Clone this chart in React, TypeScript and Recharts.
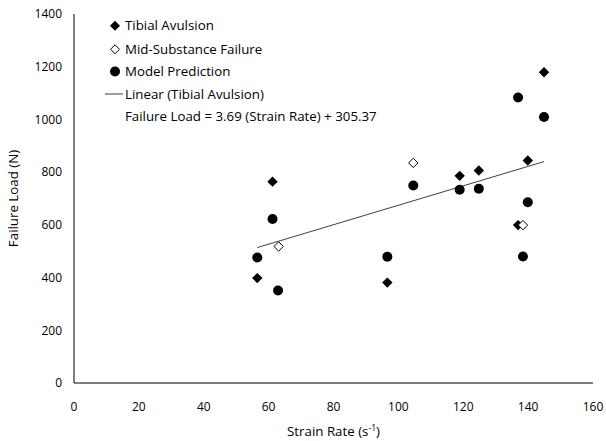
import React from "react";
import { ScatterChart, Scatter, XAxis, YAxis, ReferenceLine } from "recharts";

const strainTibial = [56.5, 61.2, 96.6, 118.9, 124.8, 136.9, 139.9, 144.9];
const loadTibial = [398, 764, 381, 786, 806, 599, 844, 1179];
const strainMid = [63.1, 104.6, 138.4];
const loadMid = [518, 835, 599];
const strainModel = [56.5, 61.2, 62.9, 96.6, 104.6, 118.9, 124.8, 136.9, 139.9, 138.4, 144.9];
const loadModel = [476, 622, 351, 479, 749, 733, 737, 1083, 686, 480, 1009];

const xTicks = [0, 20, 40, 60, 80, 100, 120, 140, 160];
const yTicks = [0, 200, 400, 600, 800, 1000, 1200, 1400];

const trendSlope = 3.69;
const trendIntercept = 305.37;

const legendLabels = [
  "Tibial Avulsion",
  "Mid-Substance Failure",
  "Model Prediction",
  "Linear (Tibial Avulsion)",
];
const equationText = "Failure Load = 3.69 (Strain Rate) + 305.37";

const FONT = "'Open Sans', sans-serif";
const TEXT_SIZE = 13.3;

const toPoints = (xs: number[], ys: number[]) => xs.map((x, i) => ({ x, y: ys[i] }));
const tibialData = toPoints(strainTibial, loadTibial);
const midData = toPoints(strainMid, loadMid);
const modelData = toPoints(strainModel, loadModel);

const trendX0 = Math.min(...strainTibial);
const trendX1 = Math.max(...strainTibial);

const R = 5.2;

const FilledDiamond = (p: any) => {
  const { cx, cy } = p;
  return <path d={`M${cx},${cy - R}L${cx + R},${cy}L${cx},${cy + R}L${cx - R},${cy}Z`} fill="#000" />;
};
const OpenDiamond = (p: any) => {
  const { cx, cy } = p;
  const r = R - 0.5;
  return <path d={`M${cx},${cy - r}L${cx + r},${cy}L${cx},${cy + r}L${cx - r},${cy}Z`} fill="#fff" stroke="#000" strokeWidth={1} />;
};
const Dot = (p: any) => {
  const { cx, cy } = p;
  return <circle cx={cx} cy={cy} r={5} fill="#000" />;
};

const LegendBox = () => {
  const tx = 125;
  const mx = 115;
  const rows = [25.7, 49.3, 71.5, 94];
  return (
    <svg width={420} height={130} style={{ position: "absolute", left: 0, top: 0, overflow: "visible", pointerEvents: "none" }}>
      <path d={`M${mx},${rows[0] - 5}L${mx + 5},${rows[0]}L${mx},${rows[0] + 5}L${mx - 5},${rows[0]}Z`} fill="#000" />
      <path d={`M${mx},${rows[1] - 4.5}L${mx + 4.5},${rows[1]}L${mx},${rows[1] + 4.5}L${mx - 4.5},${rows[1]}Z`} fill="#fff" stroke="#000" />
      <circle cx={mx} cy={rows[2]} r={5} fill="#000" />
      <line x1={105} x2={123} y1={rows[3]} y2={rows[3]} stroke="#404040" strokeWidth={1} />
      {legendLabels.map((l, i) => (
        <text key={l} x={tx} y={rows[i]} dy="0.35em" fontSize={TEXT_SIZE} fontFamily={FONT} fill="#000">
          {l}
        </text>
      ))}
      <text x={tx} y={116} dy="0.35em" fontSize={TEXT_SIZE} fontFamily={FONT} fill="#000">
        {equationText}
      </text>
    </svg>
  );
};

const XLabel = (props: any) => {
  const vb = props.viewBox || {};
  const cx = (vb.x ?? 74) + (vb.width ?? 519) / 2;
  return (
    <text x={cx} y={431} dy="0.35em" textAnchor="middle" fontSize={TEXT_SIZE} fontFamily={FONT} fill="#000">
      Strain Rate (s
      <tspan fontSize={8.5} dy="-5">-1</tspan>
      <tspan dy="5">)</tspan>
    </text>
  );
};

const YLabel = (props: any) => {
  const vb = props.viewBox || {};
  const cy = (vb.y ?? 14) + (vb.height ?? 369) / 2;
  return (
    <text x={13.5} y={cy} dy="0.35em" textAnchor="middle" fontSize={TEXT_SIZE} fontFamily={FONT} fill="#000" transform={`rotate(-90 13.5 ${cy})`}>
      Failure Load (N)
    </text>
  );
};

export default function App() {
  return (
    <div style={{ position: "absolute", left: 0, top: 0, width: 606, height: 441, background: "#fff" }}>
      <ScatterChart width={606} height={441} margin={{ top: 14, right: 13, left: 0, bottom: 0 }}>
        <XAxis
          type="number"
          dataKey="x"
          domain={[0, 160]}
          ticks={xTicks}
          interval={0}
          height={58}
          tickLine={false}
          tickSize={6}
          tickMargin={13}
          axisLine={{ stroke: "#000", strokeWidth: 1 }}
          tick={{ fontSize: 12, fontFamily: FONT, fill: "#000" }}
          label={{ content: XLabel }}
        />
        <YAxis
          type="number"
          dataKey="y"
          domain={[0, 1400]}
          ticks={yTicks}
          interval={0}
          width={74}
          tickLine={false}
          tickSize={6}
          tickMargin={6}
          axisLine={{ stroke: "#000", strokeWidth: 1 }}
          tick={{ fontSize: 12, fontFamily: FONT, fill: "#000" }}
          label={{ content: YLabel }}
        />
        <ReferenceLine
          segment={[
            { x: trendX0, y: trendSlope * trendX0 + trendIntercept },
            { x: trendX1, y: trendSlope * trendX1 + trendIntercept },
          ]}
          stroke="#404040"
          strokeWidth={1}
        />
        <Scatter name="Tibial Avulsion" data={tibialData} shape={FilledDiamond} isAnimationActive={false} />
        <Scatter name="Mid-Substance Failure" data={midData} shape={OpenDiamond} isAnimationActive={false} />
        <Scatter name="Model Prediction" data={modelData} shape={Dot} isAnimationActive={false} />
      </ScatterChart>
      <LegendBox />
    </div>
  );
}
